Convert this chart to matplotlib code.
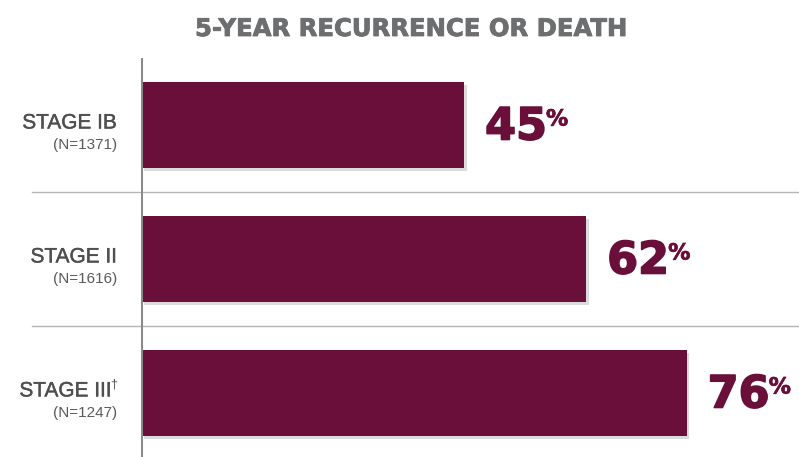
import matplotlib
matplotlib.use("Agg")
import matplotlib.pyplot as plt
import matplotlib.patheffects as pe

stages = ["STAGE IB", "STAGE II", "STAGE III"]
stage_marks = ["", "", "\u2020"]
counts = ["(N=1371)", "(N=1616)", "(N=1247)"]
values = [45, 62, 76]
title = "5-YEAR RECURRENCE OR DEATH"

W, H = 799, 457
fig = plt.figure(figsize=(W / 100, H / 100), dpi=100)
fig.patch.set_facecolor("white")

PX = 7.18  # pixels per percent unit
ax_left = 141 / W
ax = fig.add_axes([ax_left, 0, 1 - ax_left, (457 - 58) / H])
ax.set_xlim(0, (W - 141) / PX)
ax.set_ylim(2.478, -0.5)
ax.axis("off")

bar_color = "#6a0e3a"
bars = ax.barh(range(len(values)), values, height=0.645, color=bar_color, zorder=3)
for b in bars:
    b.set_path_effects([pe.SimplePatchShadow(offset=(2, -2), shadow_rgbFace="#b0b0b0", alpha=0.45), pe.Normal()])

ax.axvline(0, color="#8a8a8a", lw=2.2, zorder=5)

for yv in [0.5, 1.5]:
    ax.plot([-109 / PX, 200], [yv, yv], color="#b5b5b5", lw=1.0, clip_on=False, zorder=1)

heavy = lambda c, w: [pe.Stroke(linewidth=w, foreground=c), pe.Normal()]

fig.canvas.draw()
renderer = fig.canvas.get_renderer()

for i, (s, m, n, v) in enumerate(zip(stages, stage_marks, counts, values)):
    xr = -24 / PX
    if m:
        mk = ax.text(xr, i - 0.06, m, ha="right", va="center", fontsize=9,
                     family="Liberation Sans", color="#4f4f51", clip_on=False)
        fig.canvas.draw()
        mb = mk.get_window_extent(renderer)
        xs = xr - (mb.width - 1.5) / PX
    else:
        xs = xr
    ax.text(xs, i - 0.015, s, ha="right", va="center", fontsize=15,
            family="Liberation Sans", color="#4f4f51", clip_on=False,
            path_effects=heavy("#4f4f51", 0.3))
    ax.text(xr, i + 0.15, n, ha="right", va="center", fontsize=11,
            family="Liberation Sans", color="#5a5a5c", clip_on=False)
    t = ax.text(v + 21 / PX, i + 0.015, str(v), ha="left", va="center", fontsize=32,
                family="DejaVu Sans", weight="bold", color=bar_color, clip_on=False,
                path_effects=heavy(bar_color, 1.2))
    fig.canvas.draw()
    bb = t.get_window_extent(renderer)
    fig.text((bb.x1 - 1) / W, (bb.y1 - 4) / H, "%", ha="left", va="top", fontsize=16,
             family="DejaVu Sans", weight="bold", color=bar_color,
             path_effects=heavy(bar_color, 0.5))

fig.text(411 / W, 1 - 29 / H, title, ha="center", va="center", fontsize=17.5,
         family="DejaVu Sans", weight="bold", color="#6d6e70",
         path_effects=heavy("#6d6e70", 0.6))

fig.savefig("out.png", dpi=100, facecolor="white")
